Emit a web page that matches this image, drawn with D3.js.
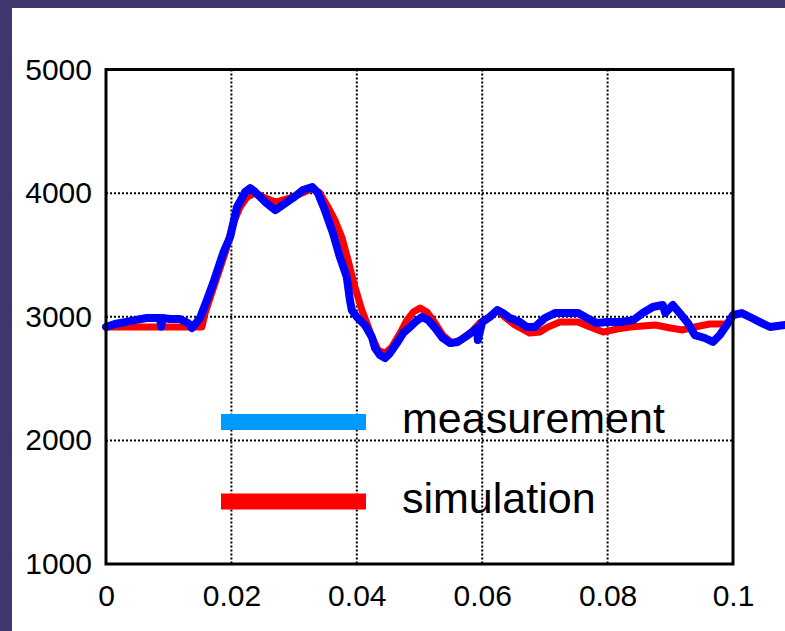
<!DOCTYPE html>
<html><head><meta charset="utf-8">
<script src="https://cdn.jsdelivr.net/npm/d3@7"></script>
<style>html,body{margin:0;padding:0;background:#fff;} svg{display:block;}</style>
</head><body>
<svg id="chart" width="785" height="631"></svg>
<script>
// ---- data ----
const measTime = [0,.0014,.0030,.0046,.0065,.0086,.0088,.0090,.0102,.0118,.0131,.0137,.0150,.0161,.0171,.0187,.0198,.0209,.0222,.0230,.0238,.0254,.0270,.0282,.0298,.0314,.0329,.0338,.0349,.0362,.0373,.0384,.0389,.0392,.0400,.0413,.0424,.0429,.0437,.0445,.0453,.0464,.0474,.0485,.0493,.0504,.0514,.0525,.0537,.0549,.0561,.0573,.0584,.0592,.0593,.0600,.0612,.0624,.0633,.0644,.0660,.0671,.0684,.0700,.0716,.0732,.0753,.0767,.0783,.0799,.0820,.0841,.0856,.0872,.0888,.0892,.0904,.0915,.0928,.0939,.0955,.0968,.0979,.0990,.1000,.1014,.1030,.1046,.1059,.1083];
const measValue = [2917,2941,2957,2973,2990,2990,2920,2990,2982,2982,2949,2909,2990,3135,3273,3516,3645,3888,4009,4041,4009,3928,3863,3904,3960,4025,4049,4001,3863,3677,3483,3321,3135,3054,2998,2933,2836,2747,2690,2666,2706,2787,2868,2917,2957,2998,2973,2909,2828,2787,2796,2836,2876,2909,2811,2957,2998,3054,3030,2990,2957,2917,2917,2990,3030,3030,3030,2990,2949,2957,2957,2973,3030,3079,3095,3030,3095,3030,2949,2852,2828,2796,2852,2933,3014,3030,2990,2949,2917,2933];
const simTime = [0,.0153,.0158,.0174,.0190,.0203,.0214,.0225,.0238,.0254,.0270,.0293,.0317,.0329,.0341,.0354,.0365,.0376,.0386,.0397,.0408,.0416,.0424,.0434,.0445,.0456,.0469,.0480,.0490,.0501,.0512,.0525,.0537,.0552,.0565,.0581,.0596,.0612,.0624,.0636,.0652,.0676,.0692,.0705,.0724,.0753,.0772,.0793,.0815,.0836,.0876,.0900,.0920,.0939,.0963,.0987];
const simValue = [2917,2917,3030,3273,3516,3758,3888,3968,4001,3960,3928,3960,4009,4041,4001,3888,3782,3645,3459,3240,3054,2949,2836,2730,2706,2755,2868,2973,3038,3070,3038,2949,2852,2787,2811,2868,2949,2998,3054,2998,2933,2868,2876,2917,2957,2957,2917,2876,2901,2917,2933,2909,2893,2917,2941,2941];
const xTicks = [0,0.02,0.04,0.06,0.08,0.1];
const xTickLabels = ["0","0.02","0.04","0.06","0.08","0.1"];
const yTicks = [1000,2000,3000,4000,5000];
const yTickLabels = ["1000","2000","3000","4000","5000"];
const seriesNames = ["measurement","simulation"];
const legendColors = ["#0099ff","#ff0000"];
const lineColors = ["#0000ff","#ff0000"];

// ---- layout ----
const svg = d3.select("#chart");
svg.append("rect").attr("x",0).attr("y",0).attr("width",785).attr("height",631).attr("fill","#40376f");
svg.append("rect").attr("x",12).attr("y",8).attr("width",773).attr("height",623).attr("fill","#ffffff");

const L=106, R=733, T=69.5, B=564;
const x = d3.scaleLinear().domain([0,0.1]).range([L,R]);
const y = d3.scaleLinear().domain([1000,5000]).range([B,T]);
const font = "'Liberation Sans', Arial, sans-serif";

// gridlines
const grid = svg.append("g");
grid.selectAll("line.v").data(xTicks.slice(1,-1)).enter().append("line")
  .attr("x1",d=>x(d)).attr("x2",d=>x(d)).attr("y1",T).attr("y2",B)
  .attr("stroke","#000").attr("stroke-width",2).attr("stroke-dasharray","2,2");
grid.selectAll("line.h").data(yTicks.slice(1,-1)).enter().append("line")
  .attr("y1",d=>y(d)).attr("y2",d=>y(d)).attr("x1",L).attr("x2",R)
  .attr("stroke","#000").attr("stroke-width",2).attr("stroke-dasharray","2,2");

// axes labels
const xAxis = d3.axisBottom(x).tickValues(xTicks).tickFormat((d,i)=>xTickLabels[i]).tickSize(0).tickPadding(21);
const gx = svg.append("g").attr("transform",`translate(0,${B})`).call(xAxis);
const yAxis = d3.axisLeft(y).tickValues(yTicks).tickFormat((d,i)=>yTickLabels[i]).tickSize(0).tickPadding(14);
const gy = svg.append("g").attr("transform",`translate(${L},0)`).call(yAxis);
[gx,gy].forEach(g=>{
  g.select(".domain").remove();
  g.selectAll("text").attr("font-family",font).attr("font-size",30).attr("fill","#000");
});

// legend
const legY = [422, 501.5];
seriesNames.forEach((n,i)=>{
  svg.append("line").attr("x1",221).attr("x2",366).attr("y1",legY[i]).attr("y2",legY[i])
    .attr("stroke",legendColors[i]).attr("stroke-width",16);
  svg.append("text").attr("x",402).attr("y",legY[i]+11).text(n)
    .attr("font-family",font).attr("font-size",43).attr("fill","#000");
});

// data lines
const line = d3.line().x(d=>x(d[0])).y(d=>y(d[1]));
const simData = simTime.map((t,i)=>[t,simValue[i]]);
const measData = measTime.map((t,i)=>[t,measValue[i]]);
svg.append("path").datum(simData).attr("d",line).attr("fill","none")
  .attr("stroke",lineColors[1]).attr("stroke-width",7).attr("stroke-linejoin","round").attr("stroke-linecap","round");
svg.append("path").datum(measData).attr("d",line).attr("fill","none")
  .attr("stroke",lineColors[0]).attr("stroke-width",8).attr("stroke-linejoin","round").attr("stroke-linecap","round");

// frame
svg.append("rect").attr("x",L).attr("y",T).attr("width",R-L).attr("height",B-T)
  .attr("fill","none").attr("stroke","#000").attr("stroke-width",3);
</script>
</body></html>
